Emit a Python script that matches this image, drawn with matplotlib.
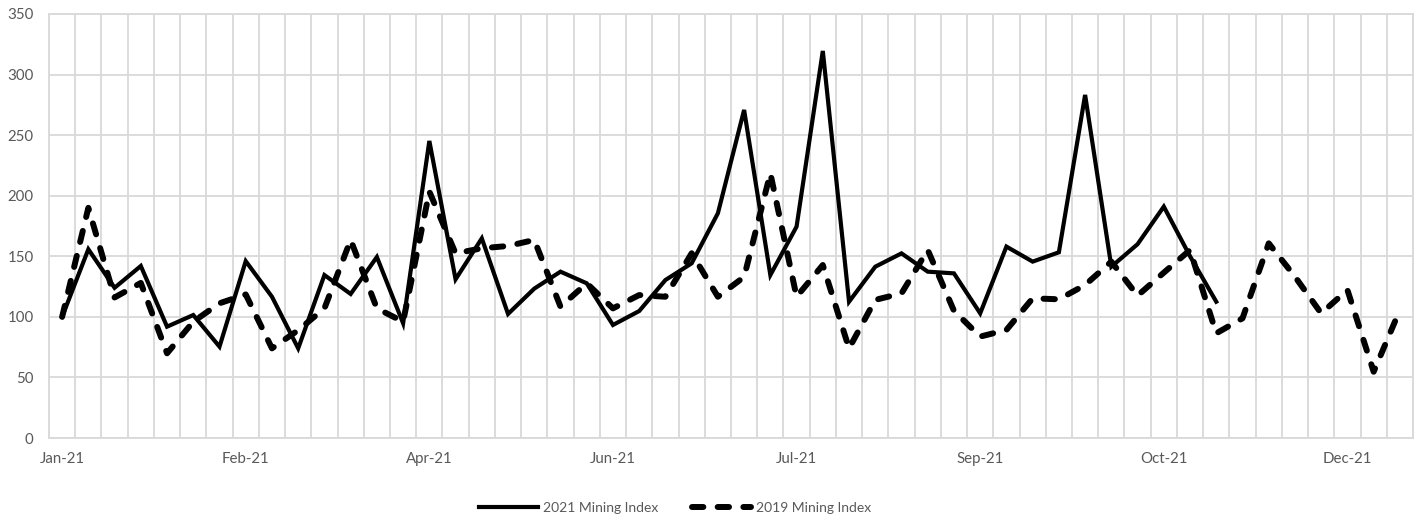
import matplotlib.pyplot as plt
import numpy as np

# weekly index values
mining_2021 = [100, 155.8, 124, 142, 91.9, 101.5, 75.4, 146, 116.6, 74,
               134.5, 118.9, 149.4, 94.7, 245.2, 131, 164.8, 102.4, 123.3, 137.3,
               127.7, 93.3, 104.8, 130.4, 144.2, 185.5, 270.8, 134.5, 174.5, 319.5,
               112.5, 141.4, 152.4, 137.3, 135.9, 102.9, 158, 145.6, 153.3, 283.2,
               141.4, 160, 191, 150, 112.5]
mining_2019 = [100, 190, 116, 128, 69.9, 96, 111.2, 118.5, 74, 89,
               107, 163.5, 107, 96, 203.4, 152.4, 156.6, 158.5, 163.5, 108.4,
               127.7, 107, 118, 116.6, 152.5, 116.6, 133, 218.5, 116.6, 142.8,
               74, 114, 119.4, 155.2, 105, 83.7, 89.2, 115.3, 114.5, 126.3,
               145.6, 117.5, 136.5, 155.2, 86.4, 98.8, 160.7, 133.2, 102.9, 122.2,
               54.7, 105.7]
month_labels = ['Jan-21', 'Feb-21', 'Apr-21', 'Jun-21', 'Jul-21', 'Sep-21', 'Oct-21', 'Dec-21']

n_weeks = 52
grey_text = '#595959'
grid_col = '#d9d9d9'

plt.rcParams['font.family'] = ['Lato', 'DejaVu Sans']

fig = plt.figure(figsize=(14.23, 5.2), dpi=100)
ax = fig.add_axes([49 / 1423, 82 / 520, 1364 / 1423, 424 / 520])

ax.plot(range(len(mining_2021)), mining_2021, color='black', linewidth=3,
        solid_joinstyle='miter', label='2021 Mining Index')
ax.plot(range(len(mining_2019)), mining_2019, color='black', linewidth=4.3,
        dashes=(1.9, 2.4), dash_capstyle='round', label='2019 Mining Index')

ax.set_xlim(-0.5, n_weeks - 0.5)
ax.set_ylim(0, 350)
ax.set_yticks(np.arange(0, 351, 50))

# labels every 7 weeks, gridlines between every week
ax.set_xticks(np.arange(0, n_weeks, 7))
ax.set_xticklabels(month_labels)
ax.set_xticks(np.arange(-0.5, n_weeks, 1), minor=True)
ax.grid(which='minor', axis='x', color=grid_col, linewidth=1.3)
ax.grid(which='major', axis='y', color=grid_col, linewidth=1.3)
ax.set_axisbelow(True)

ax.tick_params(axis='both', which='both', length=0, colors=grey_text, labelsize=10.8)
ax.tick_params(axis='x', pad=10)
ax.tick_params(axis='y', pad=11)
for s in ax.spines.values():
    s.set_color(grid_col)
    s.set_linewidth(1.3)

fig.legend(loc='center', bbox_to_anchor=(675 / 1423, 12 / 520), ncol=2, frameon=False,
           fontsize=10, labelcolor=grey_text, handlelength=4.3, columnspacing=2.4,
           handletextpad=0.35)

plt.savefig('out.png', dpi=100)
